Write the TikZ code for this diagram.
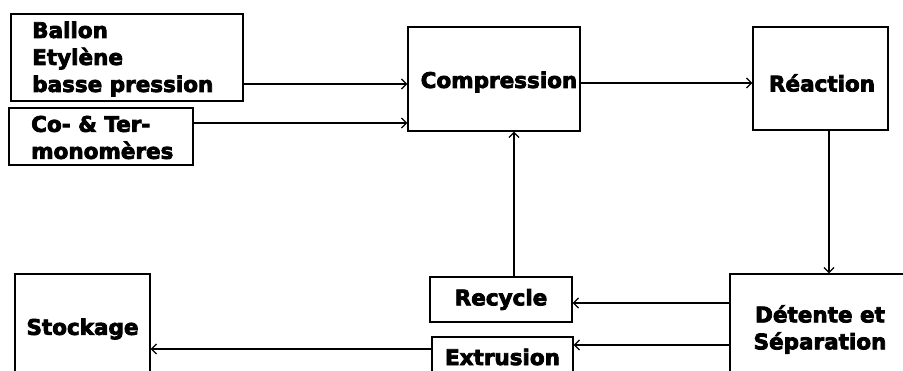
\documentclass[tikz,border=0pt]{standalone}
\usepackage{fontspec}
\newfontfamily\hb{DejaVu Sans Bold}[FakeBold=3.5]
\usetikzlibrary{arrows.meta}
\begin{document}
\begin{tikzpicture}[x=1pt,y=-1pt,
  txt/.style={font=\hb\fontsize{21.5}{27}\selectfont},
  box/.style={draw,line width=1.4pt,inner sep=0pt,txt},
  conn/.style={line width=1.2pt,-{Straight Barb[length=5pt,width=10pt,line width=1.2pt]}}]
\useasboundingbox (0,0) rectangle (903,371);
\clip (0,0) rectangle (903,371);
\fill[white] (0,0) rectangle (903,371);
\node[box,minimum width=232pt,minimum height=87pt] (ballon) at (127,57.5) {};
\node[txt,align=left,anchor=west,inner sep=0pt] (ballontxt) at (32,59) {Ballon\\Etylène\\basse pression};
\node[box,minimum width=184pt,minimum height=57pt] (como) at (101,136.5) {};
\node[txt,align=left,anchor=west,inner sep=0pt] (comotxt) at (31,137.5) {Co- \& Ter-\\monomères};
\node[box,minimum width=172pt,minimum height=104pt] (comp) at (494,79) {};
\node[txt,inner sep=0pt] (comptxt) at (499,82) {Compression};
\node[box,minimum width=135pt,minimum height=103pt] (reac) at (820.5,78.5) {};
\node[txt,inner sep=0pt] (reactxt) at (822,83) {Réaction};
\node[box,minimum width=142pt,minimum height=45pt] (recy) at (501,299.5) {Recycle};
\node[box,minimum width=141pt,minimum height=40pt] (extr) at (502.5,357) {Extrusion};
\node[box,minimum width=180pt,minimum height=111pt,align=center] (det) at (820,329.5) {Détente et\\Séparation};
\node[box,minimum width=135pt,minimum height=110pt] (stock) at (82.5,329) {Stockage};
\draw[conn] (ballon.east |- 0,84) -- (comp.west |- 0,84);
\draw[conn] (como.east |- 0,123) -- (comp.west |- 0,123);
\draw[conn] (comp.east |- 0,83) -- (reac.west |- 0,83);
\draw[conn] (reac.south -| 829,0) -- (det.north -| 829,0);
\draw[conn] (det.west |- 0,303) -- (recy.east |- 0,303);
\draw[conn] (det.west |- 0,345) -- (extr.east |- 0,345);
\draw[conn] (extr.west |- 0,349) -- (stock.east |- 0,349);
\draw[conn] (recy.north -| 514,0) -- (comp.south -| 514,0);
\end{tikzpicture}
\end{document}
